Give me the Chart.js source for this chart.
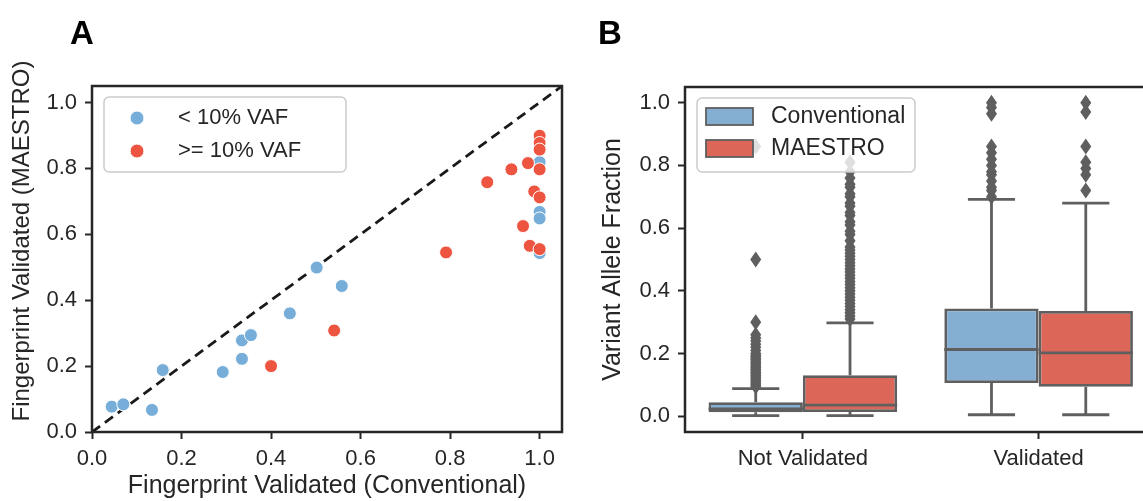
<!DOCTYPE html>
<html>
<head>
<meta charset="utf-8">
<script src="https://cdn.jsdelivr.net/npm/chart.js@4/dist/chart.umd.min.js"></script>
<style>
html, body { margin: 0; padding: 0; background: #fff; overflow: hidden; }
#wrap { position: relative; width: 1143px; height: 501px; overflow: hidden; }
#boxA { position: absolute; left: 0; top: 0; width: 580px; height: 501px; }
#boxB { position: absolute; left: 580px; top: 0; width: 600px; height: 501px; }
</style>
</head>
<body>
<div id="wrap">
  <div id="boxA"><canvas id="chartA"></canvas></div>
  <div id="boxB"><canvas id="chartB"></canvas></div>
</div>
<script>
// ---- Panel A: scatter ----
const lowVafLabel = '< 10% VAF';
const highVafLabel = '>= 10% VAF';
const lowVafX = [0.044, 0.070, 0.134, 0.158, 0.292, 0.335, 0.335, 0.355, 0.442, 0.502, 0.558, 1.0, 1.0, 1.0, 1.0];
const lowVafY = [0.077, 0.084, 0.067, 0.188, 0.182, 0.222, 0.278, 0.294, 0.360, 0.499, 0.443, 0.819, 0.668, 0.648, 0.543];
const highVafX = [0.400, 0.541, 0.791, 0.883, 0.937, 0.974, 0.963, 0.978, 0.988, 1.0, 1.0, 1.0, 1.0, 1.0, 1.0];
const highVafY = [0.200, 0.308, 0.545, 0.758, 0.797, 0.816, 0.625, 0.565, 0.730, 0.899, 0.877, 0.857, 0.797, 0.712, 0.555];
const diagonal = [0, 1.05];
const axisTicksA = [0, 0.2, 0.4, 0.6, 0.8, 1.0];
const yTitleA = 'Fingerprint Validated (MAESTRO)';

// ---- Panel B: box plots ----
const categories = ['Not Validated', 'Validated'];
const seriesNames = ['Conventional', 'MAESTRO'];
const convLow = [0.002, 0.005];
const convQ1 = [0.013, 0.106];
const convMed = [0.024, 0.213];
const convQ3 = [0.045, 0.344];
const convHigh = [0.088, 0.692];
const convOutliers = [
  [0.095, 0.10, 0.105, 0.11, 0.115, 0.12, 0.125, 0.13, 0.135, 0.14, 0.145, 0.15, 0.155, 0.16, 0.165, 0.17,
   0.175, 0.18, 0.185, 0.19, 0.195, 0.20, 0.21, 0.22, 0.23, 0.24, 0.25, 0.26, 0.30, 0.50, 0.86],
  [0.70, 0.72, 0.73, 0.75, 0.77, 0.78, 0.80, 0.82, 0.84, 0.86, 0.965, 0.985, 1.0]
];
const maeLow = [0.002, 0.005];
const maeQ1 = [0.014, 0.094];
const maeMed = [0.036, 0.202];
const maeQ3 = [0.131, 0.336];
const maeHigh = [0.298, 0.680];
const maeOutliers = [
  [0.31, 0.32, 0.33, 0.34, 0.35, 0.36, 0.37, 0.38, 0.39, 0.40, 0.41, 0.42, 0.43, 0.44, 0.45, 0.46, 0.47,
   0.48, 0.49, 0.50, 0.51, 0.52, 0.53, 0.54, 0.56, 0.58, 0.59, 0.61, 0.62, 0.64, 0.65, 0.67, 0.68,
   0.70, 0.71, 0.73, 0.74, 0.76, 0.78, 0.81],
  [0.72, 0.77, 0.79, 0.81, 0.86, 0.97, 1.0]
];

const INK = '#262626';
const BLUE = '#76aed9';
const RED = '#ee5541';
const BOX_BLUE = '#84aed2';
const BOX_RED = '#dc6759';
const BOX_LINE = '#5f5f5f';
const FONT = "'Liberation Sans', Arial, sans-serif";

Chart.defaults.font.family = FONT;
Chart.defaults.color = INK;

function roundRect(ctx, x, y, w, h, r) {
  ctx.beginPath();
  ctx.moveTo(x + r, y);
  ctx.arcTo(x + w, y, x + w, y + h, r);
  ctx.arcTo(x + w, y + h, x, y + h, r);
  ctx.arcTo(x, y + h, x, y, r);
  ctx.arcTo(x, y, x + w, y, r);
  ctx.closePath();
}

function tickGrid() {
  return { display: true, drawOnChartArea: false, drawTicks: true, tickLength: 7, tickWidth: 2, tickColor: INK };
}

// khung, chú thích, nhãn trục y và chữ cái của panel A
const decorA = {
  id: 'decorA',
  afterDraw(chart) {
    const { ctx, chartArea: a } = chart;
    ctx.save();
    ctx.strokeStyle = INK;
    ctx.lineWidth = 2.5;
    ctx.strokeRect(a.left, a.top, a.right - a.left, a.bottom - a.top);

    roundRect(ctx, 104, 97, 242, 75, 5);
    ctx.fillStyle = 'rgba(255,255,255,0.8)';
    ctx.fill();
    ctx.strokeStyle = '#cccccc';
    ctx.lineWidth = 1.5;
    ctx.stroke();

    const items = [[lowVafLabel, BLUE], [highVafLabel, RED]];
    items.forEach(function (it, i) {
      const y = 118 + i * 33;
      ctx.beginPath();
      ctx.arc(137, y, 7, 0, Math.PI * 2);
      ctx.fillStyle = it[1];
      ctx.fill();
      ctx.strokeStyle = '#fff';
      ctx.lineWidth = 1;
      ctx.stroke();
      ctx.fillStyle = INK;
      ctx.font = '22px ' + FONT;
      ctx.textBaseline = 'middle';
      ctx.textAlign = 'left';
      ctx.fillText(it[0], 178, y);
    });

    // nhãn trục y (lệch lên trên như hình gốc)
    ctx.save();
    ctx.translate(22, 241);
    ctx.rotate(-Math.PI / 2);
    ctx.font = '24px ' + FONT;
    ctx.textAlign = 'center';
    ctx.textBaseline = 'middle';
    ctx.fillStyle = INK;
    ctx.fillText(yTitleA, 0, 0);
    ctx.restore();

    ctx.font = 'bold 33px ' + FONT;
    ctx.textBaseline = 'alphabetic';
    ctx.textAlign = 'left';
    ctx.fillStyle = '#000';
    ctx.fillText('A', 70, 44);
    ctx.restore();
  }
};

new Chart(document.getElementById('chartA'), {
  type: 'scatter',
  data: {
    datasets: [
      {
        label: highVafLabel,
        data: highVafX.map((x, i) => ({ x: x, y: highVafY[i] })),
        backgroundColor: RED,
        pointBorderColor: '#fff',
        pointBorderWidth: 1,
        pointRadius: 6.5,
        order: 0
      },
      {
        label: lowVafLabel,
        data: lowVafX.map((x, i) => ({ x: x, y: lowVafY[i] })),
        backgroundColor: BLUE,
        pointBorderColor: '#fff',
        pointBorderWidth: 1,
        pointRadius: 6.5,
        order: 1
      },
      {
        type: 'line',
        label: 'y = x',
        data: diagonal.map(v => ({ x: v, y: v })),
        borderColor: '#1a1a1a',
        borderWidth: 2.8,
        borderDash: [10, 6],
        pointRadius: 0,
        fill: false,
        order: 2
      }
    ]
  },
  options: {
    responsive: true,
    maintainAspectRatio: false,
    animation: false,
    layout: { padding: { top: 86, right: 18, bottom: 0, left: 0 } },
    plugins: { legend: { display: false }, tooltip: { enabled: false } },
    scales: {
      x: {
        type: 'linear',
        min: 0,
        max: 1.05,
        afterFit: function (scale) { scale.height = 69; },
        afterBuildTicks: function (scale) { scale.ticks = axisTicksA.map(v => ({ value: v })); },
        ticks: { font: { size: 22 }, color: INK, padding: 7, callback: v => v.toFixed(1) },
        grid: tickGrid(),
        border: { display: false },
        title: { display: true, text: 'Fingerprint Validated (Conventional)', font: { size: 25 }, color: INK, padding: { top: 0, bottom: 0 } }
      },
      y: {
        type: 'linear',
        min: 0,
        max: 1.05,
        afterFit: function (scale) { scale.width = 92; },
        afterBuildTicks: function (scale) { scale.ticks = axisTicksA.map(v => ({ value: v })); },
        ticks: { font: { size: 22 }, color: INK, padding: 8, callback: v => v.toFixed(1) },
        grid: tickGrid(),
        border: { display: false }
      }
    }
  },
  plugins: [decorA]
});

// ---- Panel B ----
const boxSeries = [
  { name: seriesNames[0], fill: BOX_BLUE, low: convLow, q1: convQ1, med: convMed, q3: convQ3, high: convHigh, out: convOutliers },
  { name: seriesNames[1], fill: BOX_RED, low: maeLow, q1: maeQ1, med: maeMed, q3: maeQ3, high: maeHigh, out: maeOutliers }
];

// râu, trung vị và điểm ngoại lai
const boxExtras = {
  id: 'boxExtras',
  afterDatasetsDraw(chart) {
    const { ctx } = chart;
    const yScale = chart.scales.y;
    ctx.save();
    ctx.strokeStyle = BOX_LINE;
    ctx.fillStyle = BOX_LINE;
    ctx.lineWidth = 2.8;
    boxSeries.forEach(function (s, i) {
      const meta = chart.getDatasetMeta(i);
      meta.data.forEach(function (el, j) {
        const p = el.getProps(['x', 'width'], true);
        const cx = p.x, w = p.width;
        const yMed = yScale.getPixelForValue(s.med[j]);
        const yQ1 = yScale.getPixelForValue(s.q1[j]);
        const yQ3 = yScale.getPixelForValue(s.q3[j]);
        const yLo = yScale.getPixelForValue(s.low[j]);
        const yHi = yScale.getPixelForValue(s.high[j]);
        ctx.beginPath();
        ctx.moveTo(cx - w / 2, yMed); ctx.lineTo(cx + w / 2, yMed);
        ctx.moveTo(cx, yQ3); ctx.lineTo(cx, yHi);
        ctx.moveTo(cx, yQ1); ctx.lineTo(cx, yLo);
        ctx.moveTo(cx - w / 4, yHi); ctx.lineTo(cx + w / 4, yHi);
        ctx.moveTo(cx - w / 4, yLo); ctx.lineTo(cx + w / 4, yLo);
        ctx.stroke();
        s.out[j].forEach(function (v) {
          const y = yScale.getPixelForValue(v);
          ctx.beginPath();
          ctx.moveTo(cx, y - 8);
          ctx.lineTo(cx + 5.5, y);
          ctx.lineTo(cx, y + 8);
          ctx.lineTo(cx - 5.5, y);
          ctx.closePath();
          ctx.fill();
        });
      });
    });
    ctx.restore();
  },
  afterDraw(chart) {
    const { ctx, chartArea: a } = chart;
    ctx.save();
    ctx.strokeStyle = INK;
    ctx.lineWidth = 2.5;
    ctx.strokeRect(a.left, a.top, a.right - a.left, a.bottom - a.top);

    roundRect(ctx, 117, 98, 218, 74, 5);
    ctx.fillStyle = 'rgba(255,255,255,0.8)';
    ctx.fill();
    ctx.strokeStyle = '#cccccc';
    ctx.lineWidth = 1.5;
    ctx.stroke();

    boxSeries.forEach(function (s, i) {
      const y = 108 + i * 32;
      ctx.fillStyle = s.fill;
      ctx.fillRect(126, y, 47, 17);
      ctx.strokeStyle = BOX_LINE;
      ctx.lineWidth = 1.8;
      ctx.strokeRect(126, y, 47, 17);
      ctx.fillStyle = INK;
      ctx.font = '23px ' + FONT;
      ctx.textBaseline = 'middle';
      ctx.textAlign = 'left';
      ctx.fillText(s.name, 191, y + 9);
    });

    ctx.font = 'bold 33px ' + FONT;
    ctx.textBaseline = 'alphabetic';
    ctx.fillStyle = '#000';
    ctx.fillText('B', 18, 44);
    ctx.restore();
  }
};

new Chart(document.getElementById('chartB'), {
  type: 'bar',
  data: {
    labels: categories,
    datasets: boxSeries.map(s => ({
      label: s.name,
      data: s.q1.map((q, j) => [q, s.q3[j]]),
      backgroundColor: s.fill,
      borderColor: BOX_LINE,
      borderWidth: 2.8,
      borderSkipped: false,
      categoryPercentage: 0.8,
      barPercentage: 1.0
    }))
  },
  options: {
    responsive: true,
    maintainAspectRatio: false,
    animation: false,
    layout: { padding: { top: 87, right: 23.5, bottom: 0, left: 0 } },
    plugins: { legend: { display: false }, tooltip: { enabled: false } },
    scales: {
      x: {
        afterFit: function (scale) { scale.height = 69; },
        ticks: { font: { size: 22 }, color: INK, padding: 7 },
        grid: Object.assign(tickGrid(), { offset: false }),
        border: { display: false }
      },
      y: {
        type: 'linear',
        min: -0.05,
        max: 1.05,
        afterFit: function (scale) { scale.width = 105; },
        afterBuildTicks: function (scale) { scale.ticks = axisTicksA.map(v => ({ value: v })); },
        ticks: { font: { size: 22 }, color: INK, padding: 8, callback: v => v.toFixed(1) },
        grid: tickGrid(),
        border: { display: false },
        title: { display: true, text: 'Variant Allele Fraction', font: { size: 25 }, color: INK, padding: { top: 18, bottom: 0 } }
      }
    }
  },
  plugins: [boxExtras]
});
</script>
</body>
</html>
